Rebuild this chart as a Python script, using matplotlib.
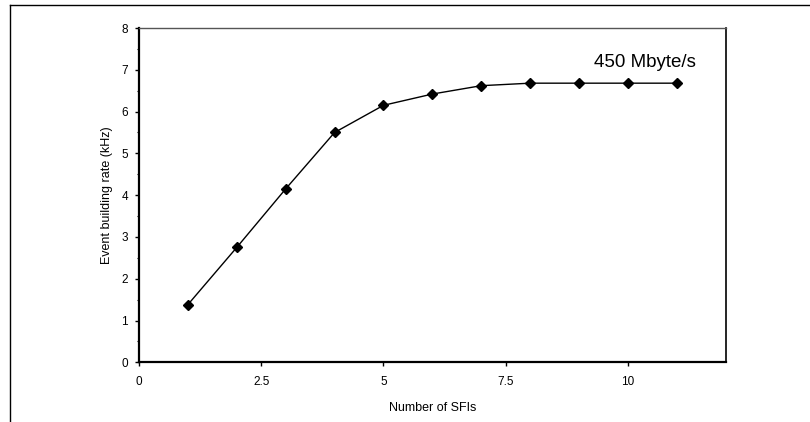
import matplotlib
matplotlib.use('Agg')
import matplotlib.pyplot as plt
from matplotlib.lines import Line2D
from matplotlib.ticker import MultipleLocator

plt.rcParams['font.family'] = ['Liberation Sans', 'DejaVu Sans']

# Data
n_sfi = [1, 2, 3, 4, 5, 6, 7, 8, 9, 10, 11]
rate_khz = [1.38, 2.75, 4.15, 5.5, 6.15, 6.42, 6.62, 6.68, 6.68, 6.68, 6.68]
x_ticks = [0, 2.5, 5, 7.5, 10]
x_tick_labels = ['0', '2.5', '5', '7.5', '10']
annotation = '450 Mbyte/s'

fig = plt.figure(figsize=(8.1, 4.22), dpi=100)
ax = fig.add_axes([0.1716, 0.1415, 0.896 - 0.1716, 0.9336 - 0.1415])

ax.plot(n_sfi, rate_khz, color='black', linewidth=1.0,
        marker='D', markersize=5, markerfacecolor='black',
        markeredgecolor='black')

ax.set_xlim(0, 12)
ax.set_ylim(0, 8)
ax.set_xticks(x_ticks)
ax.set_xticklabels(x_tick_labels)
ax.yaxis.set_major_locator(MultipleLocator(1))
ax.yaxis.set_minor_locator(MultipleLocator(0.5))

# Ticks and spines
ax.tick_params(axis='both', which='major', direction='out', length=3,
               width=1, labelsize=8.5)
ax.tick_params(axis='x', which='major', pad=7)
ax.tick_params(axis='y', which='major', pad=5)
ax.tick_params(axis='y', which='minor', direction='out', length=1.8, width=0.8)
ax.spines['left'].set_linewidth(1.6)
ax.spines['bottom'].set_linewidth(1.6)
ax.spines['top'].set_linewidth(1.0)
ax.spines['top'].set_color('#555555')
ax.spines['right'].set_linewidth(1.2)

ax.set_xlabel('Number of SFIs', fontsize=9, labelpad=10)
ax.set_ylabel('Event building rate (kHz)', fontsize=9, labelpad=6)

ax.text(9.3, 7.17, annotation, fontsize=13.5, ha='left', va='center')

# Outer frame (left and top edges visible)
fig.add_artist(Line2D([10/810, 10/810], [0, 1 - 5/422], transform=fig.transFigure,
                      color='black', linewidth=1.0))
fig.add_artist(Line2D([10/810, 1], [1 - 5/422, 1 - 5/422], transform=fig.transFigure,
                      color='black', linewidth=1.0))

plt.savefig('out.png', dpi=100)
